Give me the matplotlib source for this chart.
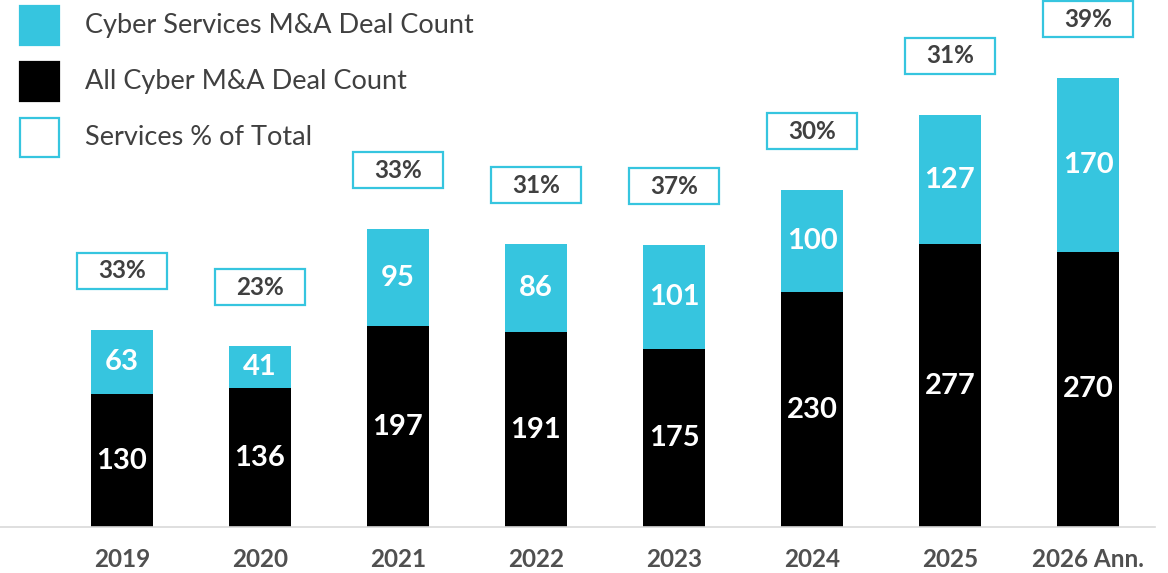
import matplotlib.pyplot as plt
from matplotlib.patches import Rectangle

years = ['2019', '2020', '2021', '2022', '2023', '2024', '2025', '2026 Ann.']
all_cyber = [130, 136, 197, 191, 175, 230, 277, 270]
services = [63, 41, 95, 86, 101, 100, 127, 170]
legend_labels = ['Cyber Services M&A Deal Count', 'All Cyber M&A Deal Count', 'Services % of Total']

CYAN = '#36C5DF'
TXT = '#404040'

plt.rcParams['font.family'] = ['Lato', 'DejaVu Sans']

fig = plt.figure(figsize=(11.68, 5.73), dpi=100)
ax = fig.add_axes([0, 1 - 527 / 573, 1155 / 1168, 527 / 573])

x = list(range(len(years)))
w = 0.45
ax.bar(x, all_cyber, width=w, color='black')
ax.bar(x, services, width=w, bottom=all_cyber, color=CYAN)

for i in x:
    ax.text(i, all_cyber[i] / 2, str(all_cyber[i]), ha='center', va='center',
            color='white', fontsize=21, fontweight='bold')
    ax.text(i, all_cyber[i] + services[i] / 2, str(services[i]), ha='center', va='center',
            color='white', fontsize=21, fontweight='bold')
    total = all_cyber[i] + services[i]
    pct = round(services[i] / total * 100)
    yc = total + 58
    bw, bh = 0.655, 35
    ax.add_patch(Rectangle((i - bw / 2, yc - bh / 2), bw, bh, facecolor='white',
                           edgecolor=CYAN, lw=1.6, clip_on=False))
    ax.text(i, yc, f'{pct}%', ha='center', va='center', color=TXT,
            fontsize=17.5, fontweight='bold')

ax.set_xlim(-122 / 138, (1155 - 122) / 138)
ax.set_ylim(0, 527 / 1.02)
ax.set_xticks(x)
ax.set_xticklabels(years, fontsize=17.5, fontweight='bold', color='#505050')
ax.tick_params(axis='x', length=0, pad=15)
ax.set_yticks([])
for s in ['top', 'right', 'left']:
    ax.spines[s].set_visible(False)
ax.spines['bottom'].set_color('#d9d9d9')
ax.spines['bottom'].set_linewidth(1.2)
ax.patch.set_alpha(0)

# legend, drawn by hand
W, H = 1168, 573
sq = 39
rows = [(6, CYAN, CYAN), (62, 'black', 'black'), (118, 'white', CYAN)]
for (top, fc, ec), lab in zip(rows, legend_labels):
    fig.patches.append(Rectangle((20 / W, 1 - (top + sq) / H), sq / W, sq / H,
                                 transform=fig.transFigure, facecolor=fc,
                                 edgecolor=ec, lw=1.6))
    fig.text(85 / W, 1 - (top + sq / 2) / H, lab, ha='left', va='center',
             fontsize=19.5, color=TXT)

plt.savefig('out.png', dpi=100)
